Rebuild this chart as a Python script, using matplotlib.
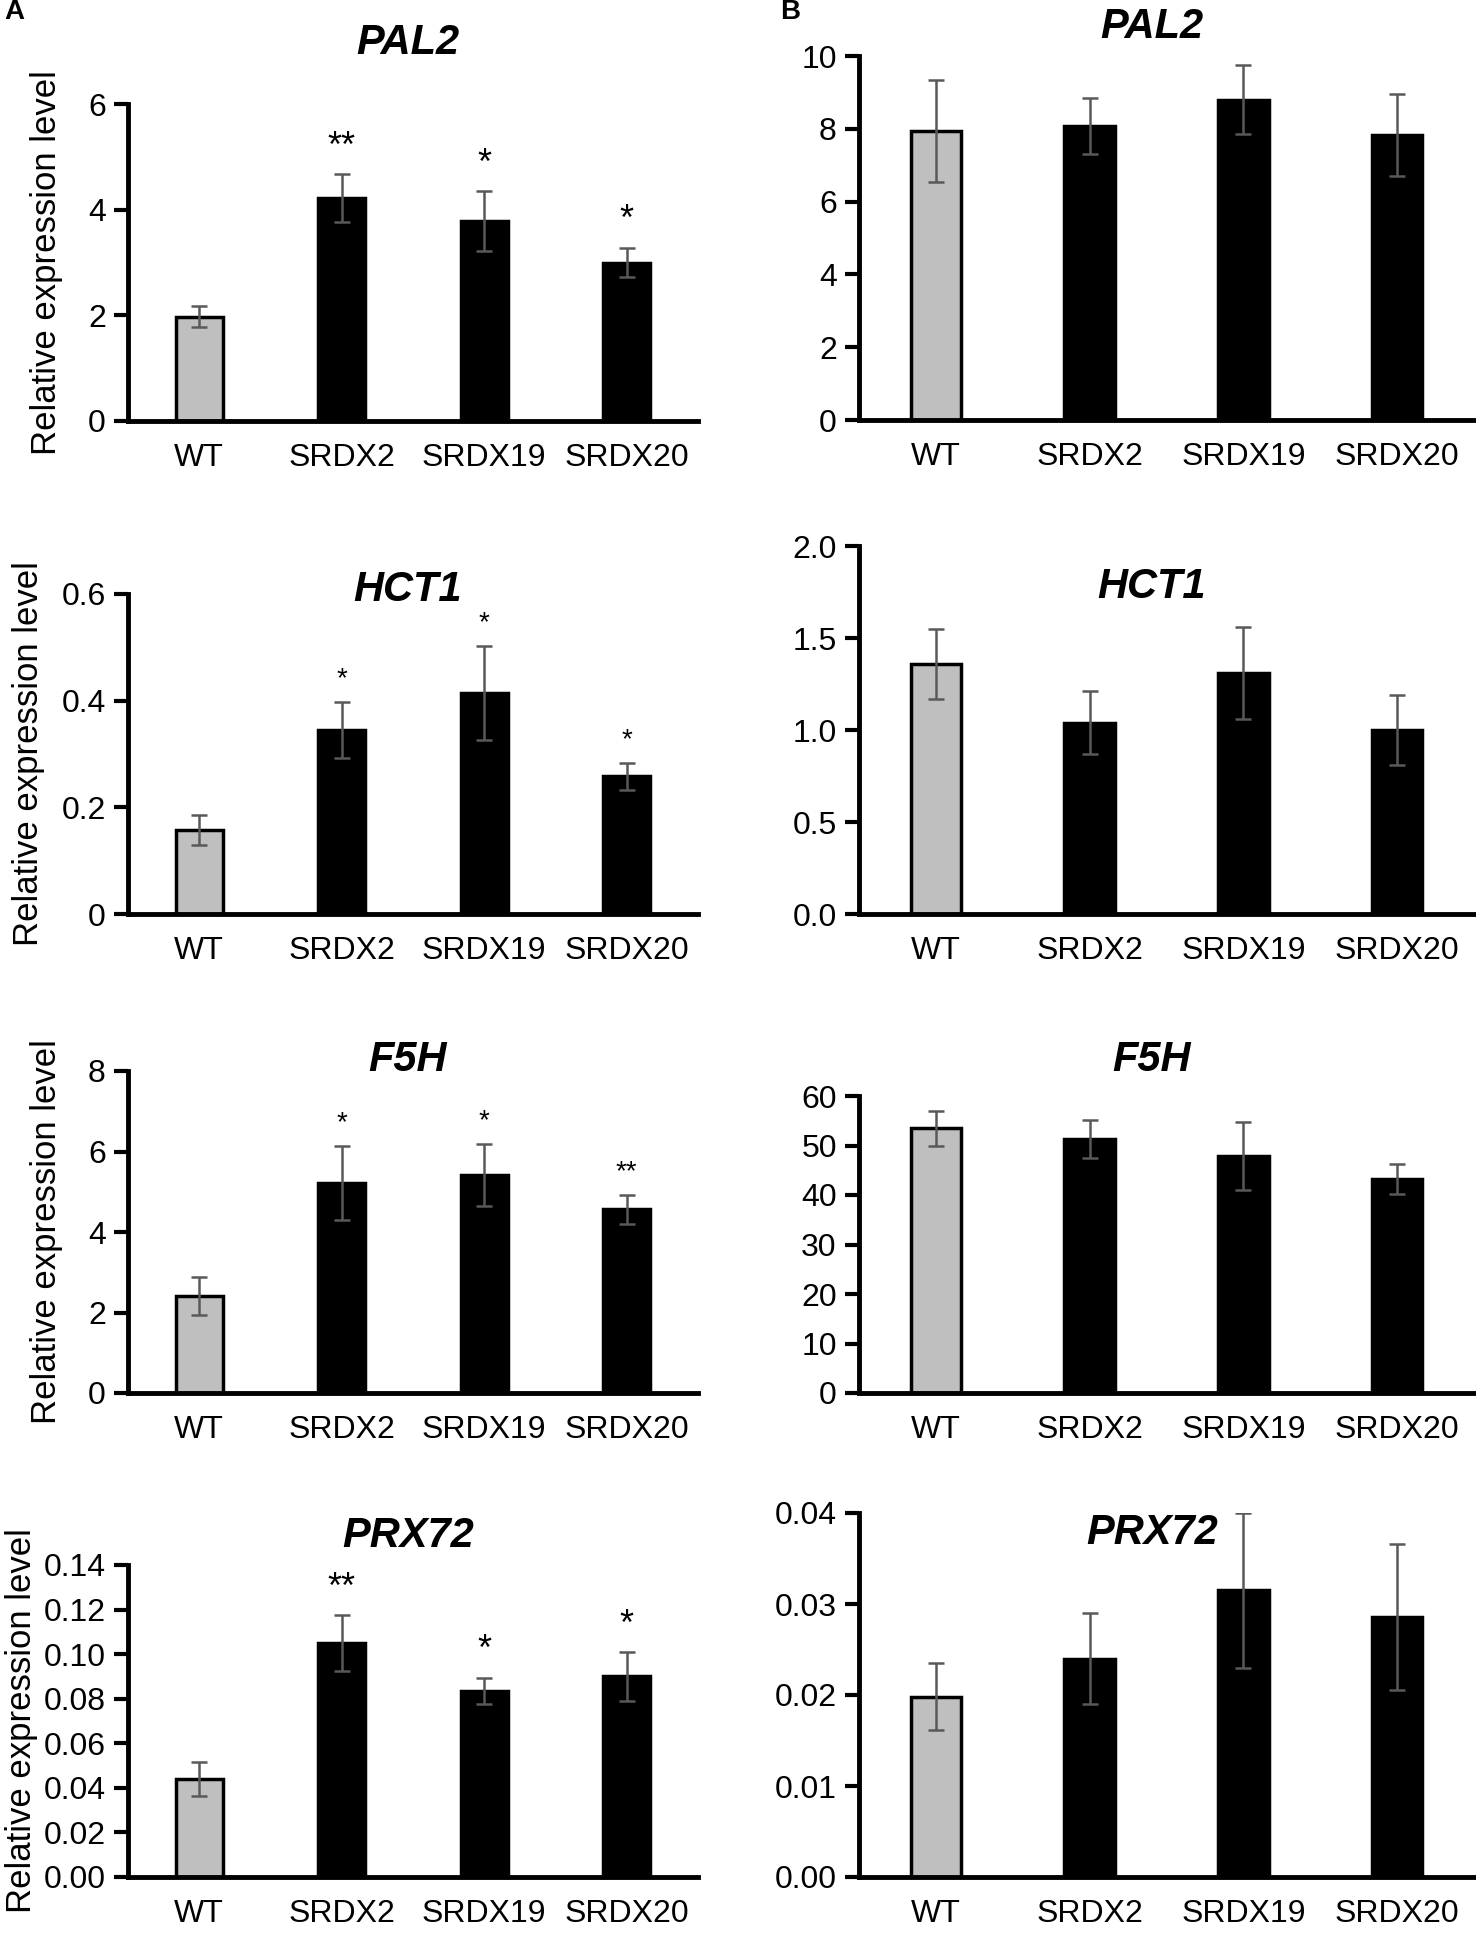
import numpy as np
import matplotlib.pyplot as plt

# categories shared by all panels
groups = ["WT", "SRDX2", "SRDX19", "SRDX20"]

# panel A (left column)
pal2_a = [1.97, 4.22, 3.78, 3.00]
pal2_a_err = [0.20, 0.45, 0.57, 0.28]
pal2_a_stars = ["", "**", "*", "*"]

hct1_a = [0.157, 0.345, 0.415, 0.258]
hct1_a_err = [0.028, 0.052, 0.088, 0.025]
hct1_a_stars = ["", "*", "*", "*"]

f5h_a = [2.42, 5.22, 5.42, 4.56]
f5h_a_err = [0.47, 0.92, 0.77, 0.36]
f5h_a_stars = ["", "*", "*", "**"]

prx72_a = [0.044, 0.105, 0.0835, 0.090]
prx72_a_err = [0.0075, 0.0125, 0.006, 0.011]
prx72_a_stars = ["", "**", "*", "*"]

# panel B (right column)
pal2_b = [7.95, 8.08, 8.80, 7.83]
pal2_b_err = [1.40, 0.77, 0.95, 1.12]

hct1_b = [1.36, 1.04, 1.31, 1.00]
hct1_b_err = [0.19, 0.17, 0.25, 0.19]

f5h_b = [53.5, 51.3, 47.9, 43.3]
f5h_b_err = [3.5, 3.8, 6.8, 3.0]

prx72_b = [0.0198, 0.0240, 0.0315, 0.0286]
prx72_b_err = [0.0037, 0.0050, 0.0085, 0.0080]

W, H = 1476, 1939
fig = plt.figure(figsize=(W / 100, H / 100), dpi=100)

narrow = ["Liberation Sans Narrow", "Liberation Sans", "DejaVu Sans"]
sans = ["Liberation Sans", "DejaVu Sans"]


def make_axes(x0, x1, ytop, ybot):
    return fig.add_axes([x0 / W, 1 - ybot / H, (x1 - x0) / W, (ybot - ytop) / H])


def draw_panel(ax, vals, errs, ticks, ticklabels, stars=None, star_size=22):
    x = np.arange(len(groups)) + 0.5
    colors = ["#bfbfbf"] + ["black"] * (len(groups) - 1)
    ax.bar(x, vals, width=0.33, color=colors, edgecolor="black", linewidth=2.5, zorder=2)
    ax.errorbar(x, vals, yerr=errs, fmt="none", ecolor="#595959", elinewidth=1.8,
                capsize=6, capthick=1.8, zorder=3)
    ax.set_xlim(0, len(groups))
    ax.set_ylim(ticks[0], ticks[-1])
    ax.set_yticks(ticks)
    ax.set_yticklabels(ticklabels, fontsize=23, family=narrow)
    ax.set_xticks(x)
    ax.set_xticklabels(groups, fontsize=23, family=sans)
    ax.tick_params(axis="x", length=0, pad=16)
    ax.tick_params(axis="y", length=10, width=3, pad=6)
    for s in ["top", "right"]:
        ax.spines[s].set_visible(False)
    for s in ["left", "bottom"]:
        ax.spines[s].set_linewidth(3.5)
    if stars:
        span = ticks[-1] - ticks[0]
        for xi, v, e, st in zip(x, vals, errs, stars):
            if st:
                ax.text(xi, v + e + 0.03 * span, st, ha="center", va="bottom",
                        fontsize=star_size, family=sans)


def title(x, y, txt):
    fig.text(x / W, 1 - y / H, txt, ha="center", va="center", fontsize=30,
             fontweight="bold", fontstyle="italic", family=sans)


LX0, LX1 = 128, 698
RX0, RX1 = 859, 1474

# row 1
ax = make_axes(LX0, LX1, 104, 421)
draw_panel(ax, pal2_a, pal2_a_err, [0, 2, 4, 6], ["0", "2", "4", "6"], pal2_a_stars, 26)
ax.set_ylabel("Relative expression level", fontsize=25, family=sans, labelpad=18)
title(408, 43, "PAL2")

ax = make_axes(RX0, RX1, 56, 420)
draw_panel(ax, pal2_b, pal2_b_err, [0, 2, 4, 6, 8, 10], ["0", "2", "4", "6", "8", "10"])
title(1152, 27, "PAL2")

# row 2
ax = make_axes(LX0, LX1, 594, 914)
draw_panel(ax, hct1_a, hct1_a_err, [0, 0.2, 0.4, 0.6], ["0", "0.2", "0.4", "0.6"], hct1_a_stars, 20)
ax.set_ylabel("Relative expression level", fontsize=25, family=sans, labelpad=12)
title(408, 590, "HCT1")

ax = make_axes(RX0, RX1, 546, 914)
draw_panel(ax, hct1_b, hct1_b_err, [0, 0.5, 1.0, 1.5, 2.0], ["0.0", "0.5", "1.0", "1.5", "2.0"])
title(1152, 587, "HCT1")

# row 3
ax = make_axes(LX0, LX1, 1071, 1393)
draw_panel(ax, f5h_a, f5h_a_err, [0, 2, 4, 6, 8], ["0", "2", "4", "6", "8"], f5h_a_stars, 20)
ax.set_ylabel("Relative expression level", fontsize=25, family=sans, labelpad=18)
title(408, 1060, "F5H")

ax = make_axes(RX0, RX1, 1096, 1393)
draw_panel(ax, f5h_b, f5h_b_err, [0, 10, 20, 30, 40, 50, 60],
           ["0", "10", "20", "30", "40", "50", "60"])
title(1152, 1060, "F5H")

# row 4
ax = make_axes(LX0, LX1, 1565, 1877)
draw_panel(ax, prx72_a, prx72_a_err, [0, 0.02, 0.04, 0.06, 0.08, 0.10, 0.12, 0.14],
           ["0.00", "0.02", "0.04", "0.06", "0.08", "0.10", "0.12", "0.14"], prx72_a_stars, 26)
ax.set_ylabel("Relative expression level", fontsize=25, family=sans, labelpad=4)
title(408, 1536, "PRX72")

ax = make_axes(RX0, RX1, 1513, 1877)
draw_panel(ax, prx72_b, prx72_b_err, [0, 0.01, 0.02, 0.03, 0.04],
           ["0.00", "0.01", "0.02", "0.03", "0.04"])
title(1152, 1533, "PRX72")

# panel letters
fig.text(4 / W, 1 - 12 / H, "A", fontsize=20, fontweight="bold", family=sans, va="center")
fig.text(780 / W, 1 - 12 / H, "B", fontsize=20, fontweight="bold", family=sans, va="center")

fig.savefig("out.png", dpi=100)
